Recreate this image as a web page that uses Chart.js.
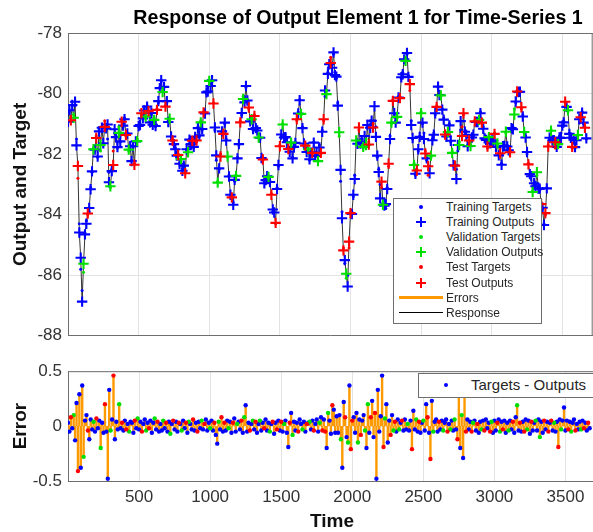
<!DOCTYPE html>
<html>
<head>
<meta charset="utf-8">
<script src="https://cdn.jsdelivr.net/npm/chart.js@4.4.0/dist/chart.umd.min.js"></script>
<style>
  body { margin: 0; width: 593px; height: 532px; overflow: hidden; background: #fff; position: relative;
         font-family: 'Liberation Sans', Arial, sans-serif; }
  canvas { position: absolute; left: 0; }
  #topChart { top: 0; }
  #errChart { top: 355px; }
  #title { position: absolute; top: 6px; left: 358px; transform: translateX(-50%); white-space: nowrap;
           font-weight: bold; font-size: 19.6px; color: #000; }
  .legend { position: absolute; background: #fff; border: 1px solid #6e6e6e; color: #262626; }
  .row { position: absolute; left: 0; right: 0; height: 14px; }
  .row span { position: absolute; left: 52px; top: 0; line-height: 14px; white-space: nowrap; }
  .mk { position: absolute; }
</style>
</head>
<body>
<canvas id="topChart" width="600" height="352"></canvas>
<canvas id="errChart" width="600" height="180"></canvas>
<div id="title">Response of Output Element 1 for Time-Series 1</div>
<div class="legend" id="legendTop" style="left:393px; top:198px; width:147px; height:124px; font-size:12px;"></div>
<div class="legend" id="legendErr" style="left:418px; top:373px; width:190px; height:23px; font-size:15px;"></div>
<script>
// samples every 10 time steps (t = 0 .. 3670)
const step = 10;

// targets, one row per 100 time steps
const targets = [
  -80.9, -80.6, -80.8, -80.4, -80.7, -80.4, -81.5, -82.8, -84.3, -85.8,
  -86.5, -85.9, -84.6, -84.2, -84.0, -83.9, -83.1, -82.6, -81.8, -81.9,
  -81.4, -82.1, -81.2, -81.9, -81.1, -81.7, -80.9, -81.2, -81.5, -82.6,
  -83.1, -82.5, -81.9, -81.3, -81.4, -81.8, -81.1, -81.6, -80.9, -81.1,
  -80.8, -81.4, -81.3, -81.9, -81.7, -82.2, -81.8, -82.3, -81.6, -81.5,
  -81.1, -81.0, -80.7, -80.8, -80.5, -80.8, -80.4, -80.6, -80.9, -80.7,
  -81.0, -80.8, -81.1, -80.5, -80.3, -79.8, -79.6, -79.9, -79.8, -80.4,
  -80.3, -80.9, -80.9, -81.4, -81.5, -81.7, -81.8, -82.1, -82.0, -82.3,
  -82.2, -82.5, -82.4, -82.6, -81.9, -81.9, -81.5, -81.7, -81.5, -81.8,
  -81.4, -81.6, -81.1, -81.4, -80.9, -81.2, -80.6, -80.6, -80.0, -79.9,
  -79.6, -79.7, -79.6, -80.3, -81.2, -82.2, -82.9, -82.5, -82.0, -81.3,
  -81.3, -81.0, -81.5, -82.1, -82.7, -83.4, -83.4, -83.6, -82.9, -82.7,
  -82.1, -81.7, -80.9, -80.7, -80.1, -80.1, -79.8, -80.2, -80.5, -80.9,
  -80.8, -81.2, -80.7, -81.2, -81.2, -81.4, -81.5, -82.1, -82.2, -82.9,
  -82.9, -82.7, -82.8, -82.9, -83.3, -83.9, -83.9, -84.3, -83.1, -82.4,
  -81.7, -81.4, -81.0, -81.4, -81.5, -81.8, -81.8, -81.8, -81.7, -82.1,
  -81.8, -81.6, -80.9, -80.6, -80.2, -80.7, -81.1, -81.7, -81.7, -81.9,
  -81.8, -82.2, -81.9, -82.0, -81.6, -82.0, -82.0, -82.2, -81.7, -82.0,
  -81.2, -80.9, -80.1, -79.9, -79.3, -79.1, -78.8, -79.0, -78.7, -79.3,
  -79.5, -80.3, -81.4, -82.9, -83.9, -85.1, -85.6, -86.1, -86.0, -85.1,
  -83.9, -83.9, -83.4, -82.7, -81.7, -81.6, -81.2, -81.6, -81.5, -81.8,
  -81.6, -81.5, -81.1, -81.6, -80.9, -81.0, -81.0, -80.9, -81.1, -82.1,
  -82.5, -83.0, -83.1, -83.6, -83.5, -83.8, -83.1, -82.4, -81.4, -81.0,
  -80.2, -80.7, -80.9, -80.8, -80.1, -80.1, -79.5, -79.3, -78.9, -78.9,
  -78.7, -79.4, -79.9, -80.9, -81.5, -82.3, -82.7, -82.5, -81.9, -81.4,
  -80.6, -81.0, -81.3, -81.9, -82.2, -82.7, -82.4, -82.1, -81.5, -81.3,
  -80.7, -80.4, -79.8, -80.0, -80.1, -80.5, -80.8, -81.4, -81.4, -81.3,
  -81.0, -81.6, -81.9, -82.4, -82.5, -82.5, -81.9, -81.6, -81.2, -81.1,
  -80.7, -81.2, -81.4, -81.7, -81.6, -81.7, -81.4, -81.4, -80.9, -81.0,
  -80.9, -80.9, -80.6, -81.0, -81.1, -81.5, -81.5, -81.8, -81.4, -81.7,
  -81.5, -81.6, -81.3, -81.7, -81.7, -82.0, -82.0, -82.3, -81.8, -81.7,
  -81.3, -81.7, -81.9, -81.9, -81.2, -81.1, -80.5, -80.3, -79.9, -80.0,
  -79.9, -80.5, -80.7, -81.3, -81.4, -82.0, -82.3, -82.7, -82.7, -83.2,
  -83.0, -83.0, -82.7, -83.1, -83.2, -83.6, -83.8, -84.3, -84.0, -83.1,
  -81.7, -81.5, -81.2, -81.6, -81.5, -81.8, -81.7, -81.7, -81.4, -81.3,
  -81.1, -80.9, -80.3, -80.4, -80.6, -81.3, -81.4, -81.8, -81.5, -81.8,
  -81.5, -81.4, -80.8, -80.8, -80.6, -81.0, -81.1, -81.5
];

// errors = targets - outputs, same time steps
const errors = [
   0.03, -0.05,  0.08, -0.02,  0.10, -0.13,  0.21, -0.41,  0.29, -0.38,
   0.37, -0.28,  0.05,  0.10, -0.04, -0.12,  0.06, -0.03,  0.04, -0.05,
   0.07, -0.02,  0.05, -0.20,  0.03, -0.06,  0.20, -0.05, -0.48,  0.33,
  -0.04,  0.06,  0.46, -0.12,  0.04, -0.03,  0.20, -0.02,  0.03, -0.04,
   0.05, -0.03,  0.02, -0.05,  0.04,  0.03, -0.06,  0.05, -0.02,  0.07,
  -0.03,  0.04, -0.05,  0.02,  0.06, -0.04,  0.03, -0.02,  0.05, -0.06,
   0.03,  0.07, -0.03,  0.04, -0.05,  0.02, -0.04,  0.05, -0.02,  0.03,
  -0.05,  0.04, -0.07,  0.02,  0.05, -0.03,  0.04, -0.05,  0.03,  0.02,
  -0.04,  0.05, -0.02,  0.03, -0.06,  0.04,  0.02, -0.03,  0.06, -0.04,
   0.03, -0.05,  0.04, -0.02,  0.05, -0.03,  0.02,  0.06, -0.04,  0.03,
  -0.02,  0.05, -0.04,  0.03, -0.08, -0.16,  0.04, -0.03,  0.08, -0.05,
   0.03, -0.04,  0.05, -0.02,  0.04, -0.06,  0.03,  0.07, -0.05,  0.02,
   0.04, -0.03,  0.05, -0.06,  0.08,  0.19, -0.05,  0.03, -0.04,  0.02,
   0.05, -0.03,  0.04, -0.06,  0.02,  0.05, -0.04,  0.03, -0.02,  0.06,
  -0.04,  0.03, -0.05,  0.02,  0.04, -0.07,  0.03, -0.03,  0.05, -0.04,
   0.04, -0.05,  0.02,  0.05, -0.06, -0.19,  0.03,  0.12, -0.08,  0.04,
  -0.04,  0.03, -0.05,  0.06,  0.02, -0.03,  0.04, -0.05,  0.02,  0.03,
   0.04, -0.03,  0.05, -0.04,  0.02,  0.06, -0.05,  0.03,  0.08, -0.04,
   0.06, -0.05, -0.20,  0.12,  0.05, -0.07,  0.19,  0.15, -0.06,  0.09,
  -0.06,  0.10, -0.12, -0.38,  0.22,  0.08, -0.10, -0.15,  0.37, -0.21,
   0.05,  0.08, -0.06,  0.12, -0.15,  0.06, -0.08,  0.05,  0.10, -0.04,
  -0.20,  0.20, -0.06,  0.08,  0.23, -0.10,  0.12, -0.48,  0.33, -0.05,
   0.09,  0.46, -0.19,  0.07,  0.20, -0.15,  0.05, -0.08,  0.10, -0.04,
   0.04, -0.05,  0.06, -0.03,  0.03,  0.05, -0.04,  0.06, -0.03,  0.02,
  -0.04,  0.05, -0.21,  0.14, -0.03,  0.06, -0.05,  0.04, -0.06,  0.03,
   0.05, -0.04,  0.20,  0.08, -0.06, -0.30,  0.23, -0.05,  0.04,  0.06,
  -0.05,  0.04, -0.03,  0.05, -0.04,  0.03,  0.06, -0.05,  0.02, -0.03,
   0.05, -0.04,  0.06, -0.03, -0.12,  0.32, -0.20,  0.10, -0.29,  0.30,
  -0.05,  0.06, -0.03,  0.04, -0.05,  0.03,  0.05, -0.04,  0.02, -0.06,
   0.04, -0.03,  0.05, -0.04,  0.06, -0.02,  0.03, -0.05,  0.04, -0.06,
   0.05, -0.04,  0.03,  0.06, -0.05,  0.04, -0.03,  0.05, -0.06,  0.03,
  -0.04,  0.05, -0.03,  0.04, -0.06,  0.08,  0.19, -0.04,  0.03, -0.05,
   0.04, -0.05,  0.06, -0.03,  0.05, -0.07,  0.04, -0.04,  0.03,  0.05,
  -0.04,  0.06, -0.10,  0.04, -0.06,  0.05, -0.03,  0.04, -0.05,  0.03,
   0.05, -0.04,  0.03, -0.05,  0.04, -0.19,  0.06, -0.03,  0.05,  0.17,
  -0.04,  0.05, -0.03,  0.04, -0.05,  0.03,  0.06, -0.04,  0.02, -0.03,
   0.04, -0.03,  0.05, -0.02,  0.03, -0.04,  0.03, -0.02
];

// which subset each sample went to: T = training, V = validation, S = test
const splitCodes = [
  'TTSTVTTSTT', 'TVTTSTTTVT', 'STTVTTSTTT', 'VTSTTTVTST', 'TSTVTTTSTV', 'TTSTTVTSTT',
  'TVTSTTTVTS', 'TTVTSTTTST', 'VTTSTVTTST', 'TSTTVTSTTT', 'VTTSTTVTST', 'STTVTTSTTV',
  'TTSTVTTTST', 'VTSTTVTTST', 'TTVTSTTSTT', 'STVTTTSTVT', 'TTSTTVTTST', 'VTTSTTTVTS',
  'TSTVTTSTTT', 'TTVTTSTVTS', 'STTTVTSTTV', 'TVTSTTSTTT', 'TTSVTTTSTV', 'STTVTSTTTV',
  'TTSTTVTSTT', 'VTTSTSTVTT', 'TSTTVTTSTV', 'TTVTSTTVTS', 'STTTSVTTST', 'TVTSTTTSVT',
  'TTSTVTSTTT', 'VTTSTTVTST', 'TSTVTTSTTV', 'TTVTTSTTST', 'STVTTSTVTT', 'TTSTVTTSTT',
  'TVTSTTST'
].join('');

const setCodes = ['T', 'V', 'S'];
const setNames = ['Training', 'Validation', 'Test'];
const setColors = ['#0000ff', '#00e000', '#ff0000'];

const xTicks = [500, 1000, 1500, 2000, 2500, 3000, 3500];
const yTicksTop = [-88, -86, -84, -82, -80, -78];
const yTicksErr = [-0.5, 0, 0.5];

const errorColor = '#ff9900';
const axisColor = '#6e6e6e';
const gridColor = '#e3e3e3';
const tickFont = { family: "'Liberation Sans', Arial, sans-serif", size: 17 };
const labelFont = { family: "'Liberation Sans', Arial, sans-serif", size: 19, weight: 'bold' };

const times = targets.map((_, i) => i * step);
const outputs = targets.map((v, i) => v - errors[i]);

// top and right edge of the axes box (MATLAB "box on")
const framePlugin = {
  id: 'frame',
  afterDraw(chart) {
    const { ctx, chartArea: a } = chart;
    ctx.save();
    ctx.strokeStyle = axisColor;
    ctx.lineWidth = 1;
    ctx.beginPath();
    ctx.moveTo(a.left, a.top + 0.5);
    ctx.lineTo(a.right, a.top + 0.5);
    ctx.moveTo(a.right - 0.5, a.top);
    ctx.lineTo(a.right - 0.5, a.bottom);
    ctx.stroke();
    ctx.restore();
  }
};

function fixedTicks(values) {
  return function (scale) { scale.ticks = values.map(v => ({ value: v })); };
}

// ---- top panel: outputs and targets ----
const topSets = [];
setCodes.forEach((code, k) => {
  const tgt = [], out = [];
  times.forEach((t, i) => {
    if ((splitCodes[i] || 'T') !== code) return;
    tgt.push({ x: t, y: targets[i] });
    out.push({ x: t, y: outputs[i] });
  });
  topSets.push({
    label: setNames[k] + ' Targets', data: tgt, showLine: false,
    pointStyle: 'circle', pointRadius: 1.5, backgroundColor: setColors[k], borderWidth: 0, order: 3 - k
  });
  topSets.push({
    label: setNames[k] + ' Outputs', data: out, showLine: false,
    pointStyle: 'cross', pointRadius: 5.2, borderColor: setColors[k], borderWidth: 2.1, order: 3 - k
  });
});
topSets.push({
  label: 'Response', data: times.map((t, i) => ({ x: t, y: outputs[i] })),
  showLine: true, borderColor: '#000', borderWidth: 0.8, pointRadius: 0, order: 10
});

new Chart(document.getElementById('topChart'), {
  type: 'scatter',
  data: { datasets: topSets },
  options: {
    responsive: false, animation: false, devicePixelRatio: 1, events: [],
    layout: { padding: { top: 33, bottom: 4, left: 0, right: 2 } },
    plugins: { legend: { display: false }, tooltip: { enabled: false } },
    scales: {
      x: {
        type: 'linear', min: 0, max: 3715,
        afterBuildTicks: fixedTicks(xTicks),
        afterFit(s) { s.height = 0; },
        ticks: { display: false },
        grid: { color: gridColor, drawTicks: false },
        border: { color: axisColor }
      },
      y: {
        min: -88, max: -78,
        afterBuildTicks: fixedTicks(yTicksTop),
        afterFit(s) { s.width = 68; },
        ticks: { font: tickFont, color: '#333', padding: 6 },
        grid: { color: gridColor, drawTicks: false },
        border: { color: axisColor },
        title: { display: true, text: 'Output and Target', font: labelFont, color: '#111', padding: { top: 9, bottom: 0 } }
      }
    }
  },
  plugins: [framePlugin]
});

// ---- bottom panel: errors ----
const stemData = [];
times.forEach((t, i) => {
  stemData.push({ x: t, y: 0 }, { x: t, y: errors[i] }, { x: t, y: null });
});
const errSets = [{
  label: 'Errors', data: stemData, showLine: true, spanGaps: false,
  borderColor: errorColor, borderWidth: 2.4, pointRadius: 0, order: 10
}];
setCodes.forEach((code, k) => {
  const pts = [];
  times.forEach((t, i) => {
    if ((splitCodes[i] || 'T') === code) pts.push({ x: t, y: errors[i] });
  });
  errSets.push({
    label: setNames[k], data: pts, showLine: false,
    pointStyle: 'circle', pointRadius: 2.2, backgroundColor: setColors[k], borderWidth: 0, order: 3 - k
  });
});

new Chart(document.getElementById('errChart'), {
  type: 'scatter',
  data: { datasets: errSets },
  options: {
    responsive: false, animation: false, devicePixelRatio: 1, events: [],
    layout: { padding: { top: 13, bottom: 0, left: 0, right: 2 } },
    plugins: { legend: { display: false }, tooltip: { enabled: false } },
    scales: {
      x: {
        type: 'linear', min: 0, max: 3715,
        afterBuildTicks: fixedTicks(xTicks),
        afterFit(s) { s.height = 54; },
        ticks: { font: tickFont, color: '#333', padding: 6, maxRotation: 0, callback: v => String(v) },
        grid: { color: gridColor, drawTicks: false },
        border: { color: axisColor },
        title: { display: true, text: 'Time', font: labelFont, color: '#111', padding: { top: 0, bottom: 2 } }
      },
      y: {
        min: -0.5, max: 0.5,
        afterBuildTicks: fixedTicks(yTicksErr),
        afterFit(s) { s.width = 68; },
        ticks: { font: tickFont, color: '#333', padding: 6 },
        grid: { color: gridColor, drawTicks: false },
        border: { color: axisColor },
        title: { display: true, text: 'Error', font: labelFont, color: '#111', padding: { top: 9, bottom: 0 } }
      }
    }
  },
  plugins: [framePlugin]
});

// ---- legends (HTML boxes inside the axes, like MATLAB) ----
function marker(kind, color) {
  const m = document.createElement('div');
  m.className = 'mk';
  if (kind === 'dot') {
    Object.assign(m.style, { left: '25px', top: '5px', width: '4px', height: '4px', borderRadius: '50%', background: color });
  } else if (kind === 'cross') {
    Object.assign(m.style, { left: '22px', top: '2px', width: '10px', height: '10px' });
    m.innerHTML = '<div style="position:absolute;left:0;top:4px;width:10px;height:2px;background:' + color + '"></div>' +
                  '<div style="position:absolute;left:4px;top:0;width:2px;height:10px;background:' + color + '"></div>';
  } else {
    const h = kind === 'thick' ? 3 : 1.5;
    Object.assign(m.style, { left: '5px', top: (7 - h / 2) + 'px', width: '44px', height: h + 'px', background: color });
  }
  return m;
}

const legendItems = [];
setNames.forEach((n, k) => {
  legendItems.push([n + ' Targets', 'dot', setColors[k]]);
  legendItems.push([n + ' Outputs', 'cross', setColors[k]]);
});
legendItems.push(['Errors', 'thick', errorColor]);
legendItems.push(['Response', 'thin', '#000']);

const legendTop = document.getElementById('legendTop');
legendItems.forEach(([text, kind, color], i) => {
  const row = document.createElement('div');
  row.className = 'row';
  row.style.top = (1 + i * 15.1) + 'px';
  row.appendChild(marker(kind, color));
  const s = document.createElement('span');
  s.textContent = text;
  row.appendChild(s);
  legendTop.appendChild(row);
});

const legendErr = document.getElementById('legendErr');
const errRow = document.createElement('div');
errRow.className = 'row';
errRow.style.top = '4px';
errRow.appendChild(marker('dot', setColors[0]));
const errText = document.createElement('span');
errText.textContent = 'Targets - Outputs';
errRow.appendChild(errText);
legendErr.appendChild(errRow);
</script>
</body>
</html>
